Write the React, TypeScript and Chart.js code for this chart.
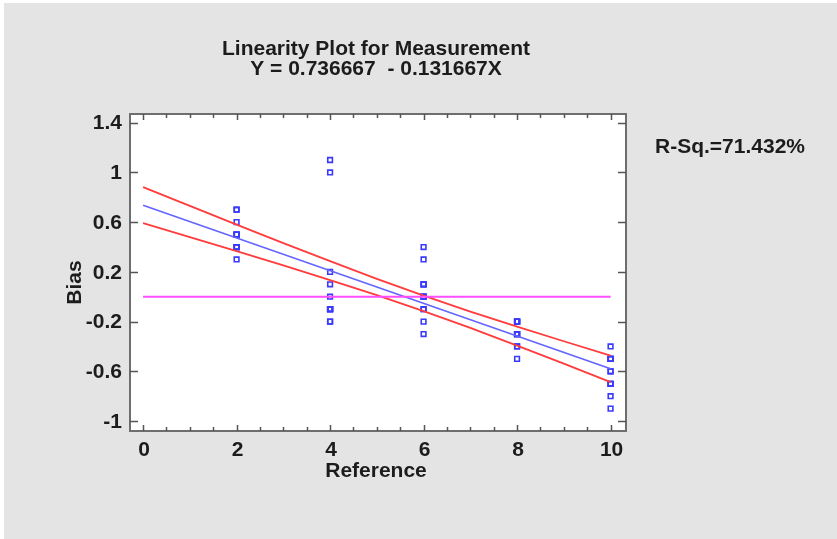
import React, { useEffect, useRef } from 'react';
import { Chart, registerables } from 'chart.js';

Chart.register(...registerables);

// ---- data ----
const references = [2, 4, 6, 8, 10];
const biasRef2 = [0.7, 0.5, 0.4, 0.5, 0.7, 0.3, 0.5, 0.5, 0.4, 0.4, 0.6, 0.4];
const biasRef4 = [1.1, -0.1, 0.2, 1.0, -0.2, -0.1, -0.1, -0.1, -0.1, 0.0, 0.1, -0.2];
const biasRef6 = [-0.2, -0.3, -0.1, -0.1, 0.0, 0.1, 0.0, 0.1, 0.4, 0.3, 0.0, 0.1];
const biasRef8 = [-0.4, -0.3, -0.2, -0.3, -0.2, -0.2, -0.2, -0.3, -0.2, -0.5, -0.4, -0.3];
const biasRef10 = [-0.9, -0.7, -0.5, -0.7, -0.6, -0.5, -0.5, -0.5, -0.4, -0.8, -0.7, -0.6];
const biasByReference = [biasRef2, biasRef4, biasRef6, biasRef8, biasRef10];

const fitX = [0, 10];
const fitY = [0.736667, -0.58];

const bandX = [0, 1, 2, 3, 4, 5, 6, 7, 8, 9, 10];
const bandUpper = [0.8819, 0.7307, 0.5805, 0.4319, 0.2858, 0.1439, 0.0086, -0.1194, -0.2409, -0.3581, -0.4728];
const bandLower = [0.5915, 0.4793, 0.3661, 0.2515, 0.1342, 0.0127, -0.1152, -0.2506, -0.3925, -0.5385, -0.6872];

const zeroX = [0, 10];
const zeroY = [0, 0];

const yTicks = [-1, -0.6, -0.2, 0.2, 0.6, 1, 1.4];
const yTickLabels = ['-1', '-0.6', '-0.2', '0.2', '0.6', '1', '1.4'];
const xTicks = [0, 2, 4, 6, 8, 10];
const xTickLabels = ['0', '2', '4', '6', '8', '10'];
const xMinorTicks = [0.5, 1, 1.5, 2.5, 3, 3.5, 4.5, 5, 5.5, 6.5, 7, 7.5, 8.5, 9, 9.5];

const titleLines = ['Linearity Plot for Measurement', 'Y = 0.736667  - 0.131667X'];
const xAxisTitle = 'Reference';
const yAxisTitle = 'Bias';
const rSqText = 'R-Sq.=71.432%';

const FONT = 'bold 21px "Liberation Sans", Arial, sans-serif';
const TEXT_COLOR = '#1c1c1c';
const FRAME_COLOR = '#6e6e6e';

const toXY = (xs: number[], ys: number[]) => xs.map((x, i) => ({ x, y: ys[i] }));

const decorPlugin = {
  id: 'decor',
  beforeDraw(chart: any) {
    const { ctx, width, height, chartArea } = chart;
    ctx.save();
    ctx.fillStyle = '#ffffff';
    ctx.fillRect(0, 0, width, height);
    ctx.fillStyle = '#e4e4e4';
    ctx.fillRect(4, 3, width - 4, height - 3);
    ctx.fillStyle = '#ffffff';
    ctx.fillRect(chartArea.left, chartArea.top, chartArea.right - chartArea.left, chartArea.bottom - chartArea.top);
    ctx.restore();
  },
  afterDraw(chart: any) {
    const { ctx, chartArea } = chart;
    const xs = chart.scales.x;
    const ys = chart.scales.y;
    const { left, right, top, bottom } = chartArea;
    ctx.save();
    // frame
    ctx.strokeStyle = FRAME_COLOR;
    ctx.lineWidth = 2;
    ctx.strokeRect(left, top, right - left, bottom - top);
    // ticks
    ctx.lineWidth = 1.5;
    ctx.strokeStyle = '#555555';
    ctx.beginPath();
    yTicks.forEach((v) => {
      const py = Math.round(ys.getPixelForValue(v)) + 0.5;
      ctx.moveTo(left, py);
      ctx.lineTo(left + 8, py);
      ctx.moveTo(right, py);
      ctx.lineTo(right - 8, py);
    });
    xTicks.forEach((v) => {
      const px = Math.round(xs.getPixelForValue(v)) + 0.5;
      ctx.moveTo(px, bottom);
      ctx.lineTo(px, bottom - 6);
      ctx.moveTo(px, top);
      ctx.lineTo(px, top + 6);
    });
    xMinorTicks.forEach((v) => {
      const px = Math.round(xs.getPixelForValue(v)) + 0.5;
      ctx.moveTo(px, bottom);
      ctx.lineTo(px, bottom - 4);
      ctx.moveTo(px, top);
      ctx.lineTo(px, top + 4);
    });
    ctx.stroke();

    // text
    ctx.fillStyle = TEXT_COLOR;
    ctx.font = FONT;
    // y tick labels
    ctx.textAlign = 'right';
    ctx.textBaseline = 'middle';
    yTicks.forEach((v, i) => {
      ctx.fillText(yTickLabels[i], left - 8, ys.getPixelForValue(v) + 1);
    });
    // x tick labels
    ctx.textAlign = 'center';
    xTicks.forEach((v, i) => {
      ctx.fillText(xTickLabels[i], xs.getPixelForValue(v) + 1, bottom + 19);
    });
    // axis titles
    ctx.textBaseline = 'alphabetic';
    const cx = (left + right) / 2 - 2;
    ctx.fillText(xAxisTitle, cx, bottom + 46);
    ctx.fillText(titleLines[0], cx, top - 59);
    ctx.fillText(titleLines[1], cx, top - 39);
    ctx.save();
    ctx.translate(left - 49, (top + bottom) / 2 + 10);
    ctx.rotate(-Math.PI / 2);
    ctx.textAlign = 'center';
    ctx.fillText(yAxisTitle, 0, 0);
    ctx.restore();
    ctx.textAlign = 'left';
    ctx.fillText(rSqText, right + 29, top + 39);
    ctx.restore();
  },
};

export default function App() {
  const canvasRef = useRef<HTMLCanvasElement | null>(null);

  useEffect(() => {
    document.body.style.margin = '0';
    const canvas = canvasRef.current;
    if (!canvas) return;

    const points: { x: number; y: number }[] = [];
    references.forEach((r, i) => {
      biasByReference[i].forEach((b) => points.push({ x: r, y: b }));
    });

    const lineBase = {
      type: 'line' as const,
      showLine: true,
      pointRadius: 0,
      pointHoverRadius: 0,
      fill: false,
      tension: 0,
    };

    const chart = new Chart(canvas, {
      type: 'scatter',
      data: {
        datasets: [
          { ...lineBase, label: 'zero', data: toXY(zeroX, zeroY), borderColor: '#ff4dff', borderWidth: 2 },
          { ...lineBase, label: 'fit', data: toXY(fitX, fitY), borderColor: '#6464ff', borderWidth: 1.6 },
          { ...lineBase, label: 'upper', data: toXY(bandX, bandUpper), borderColor: '#ff3b3b', borderWidth: 1.8 },
          { ...lineBase, label: 'lower', data: toXY(bandX, bandLower), borderColor: '#ff3b3b', borderWidth: 1.8 },
          {
            label: 'bias',
            data: points,
            pointStyle: 'rect',
            pointRadius: 3.3,
            borderColor: '#3a3aff',
            backgroundColor: 'rgba(255,255,255,0)',
            borderWidth: 1.6,
          } as any,
        ],
      },
      options: {
        animation: false,
        responsive: false,
        maintainAspectRatio: false,
        events: [],
        layout: { padding: { left: 130, top: 114, right: 211, bottom: 108 } },
        plugins: {
          legend: { display: false },
          tooltip: { enabled: false },
          title: { display: false },
        },
        scales: {
          x: { type: 'linear', min: -0.28, max: 10.33, display: false },
          y: { type: 'linear', min: -1.08, max: 1.47, display: false },
        },
      },
      plugins: [decorPlugin],
    });

    return () => chart.destroy();
  }, []);

  return <canvas ref={canvasRef} width={837} height={539} style={{ display: 'block' }} />;
}
